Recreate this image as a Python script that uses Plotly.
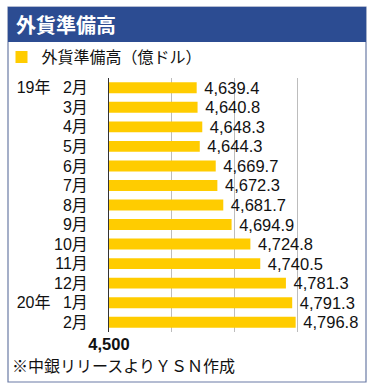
import plotly.graph_objects as go

# ---- data ----
tick_labels = ["19年\u2002\u00a02月", "3月", "4月", "5月", "6月", "7月", "8月", "9月",
               "10月", "11月", "12月", "20年\u2002\u00a01月", "2月"]
reserves = [4639.4, 4640.8, 4648.3, 4644.3, 4669.7, 4672.3, 4681.7, 4694.9,
            4724.8, 4740.5, 4781.3, 4791.3, 4796.8]
x_tick_vals = [4500, 4600, 4700, 4800]
x_tick_text = ["4,500", "", "", ""]
series_name = "外貨準備高（億ドル）"
title_text = "外貨準備高"
note_text = "※中銀リリースよりＹＳＮ作成"

FONT = "Noto Sans CJK JP"
NUMFONT = "Liberation Sans, Noto Sans CJK JP"
W, H = 378, 392
L, R, T, B = 109, 30, 78, 60
PW, PH = W - L - R, H - T - B


def px_x(p):
    return (p - L) / PW


def px_y(p):
    return (H - B - p) / PH


fig = go.Figure()
fig.add_trace(go.Bar(
    x=reserves, y=tick_labels, orientation="h",
    marker=dict(color="#FFCC00", line=dict(width=0)),
    width=0.56,
    name=series_name,
    texttemplate="\u00a0%{x:,.1f}", textposition="outside",
    textfont=dict(family=NUMFONT, size=16.5, color="#111111"),
    constraintext="none",
    cliponaxis=False,
    showlegend=True,
    hoverinfo="skip",
))

shapes = [
    # frame
    dict(type="rect", xref="paper", yref="paper",
         x0=px_x(8), x1=px_x(366), y0=px_y(382), y1=px_y(7),
         line=dict(color="#6A7BA5", width=1.2), fillcolor="rgba(0,0,0,0)", layer="below"),
    # title band
    dict(type="rect", xref="paper", yref="paper",
         x0=px_x(8), x1=px_x(366), y0=px_y(42), y1=px_y(7),
         line=dict(width=0), fillcolor="#2C4C92", layer="below"),
]

annotations = [
    dict(text=title_text, xref="paper", yref="paper", x=px_x(14), y=px_y(24.5),
         xanchor="left", yanchor="middle", showarrow=False,
         font=dict(family=FONT, size=20, color="white", weight="bold")),
    dict(text=note_text, xref="paper", yref="paper", x=px_x(10), y=px_y(365),
         xanchor="left", yanchor="middle", showarrow=False,
         font=dict(family=FONT, size=16, color="#111111")),
]

fig.update_layout(
    width=W, height=H,
    margin=dict(l=L, r=R, t=T, b=B, pad=0, autoexpand=False),
    paper_bgcolor="white", plot_bgcolor="white",
    font=dict(family=FONT, color="#111111"),
    shapes=shapes, annotations=annotations,
    showlegend=True,
    legend=dict(x=px_x(1.5), y=px_y(57), xanchor="left", yanchor="middle",
                bgcolor="rgba(0,0,0,0)", font=dict(family=FONT, size=16, color="#111111"),
                borderwidth=0),
    xaxis=dict(range=[4500, 4880], tickvals=x_tick_vals, ticktext=x_tick_text,
               showgrid=True, gridcolor="#BDBDBD", gridwidth=1, zeroline=False,
               showline=False, ticks="",
               tickfont=dict(family=NUMFONT, size=16.5, color="#111111", weight="bold"),
               fixedrange=True),
    yaxis=dict(autorange="reversed", showline=True, linecolor="#333333", linewidth=1,
               ticks="", ticklabelstandoff=17,
               tickmode="array", tickvals=tick_labels, ticktext=tick_labels,
               tickfont=dict(family=NUMFONT, size=16, color="#111111"),
               fixedrange=True),
    bargap=0.44,
)

fig.write_html(
    "out.html",
    config={"displayModeBar": False, "staticPlot": True},
    post_script="document.body.style.margin='0';document.body.style.padding='0';",
)
